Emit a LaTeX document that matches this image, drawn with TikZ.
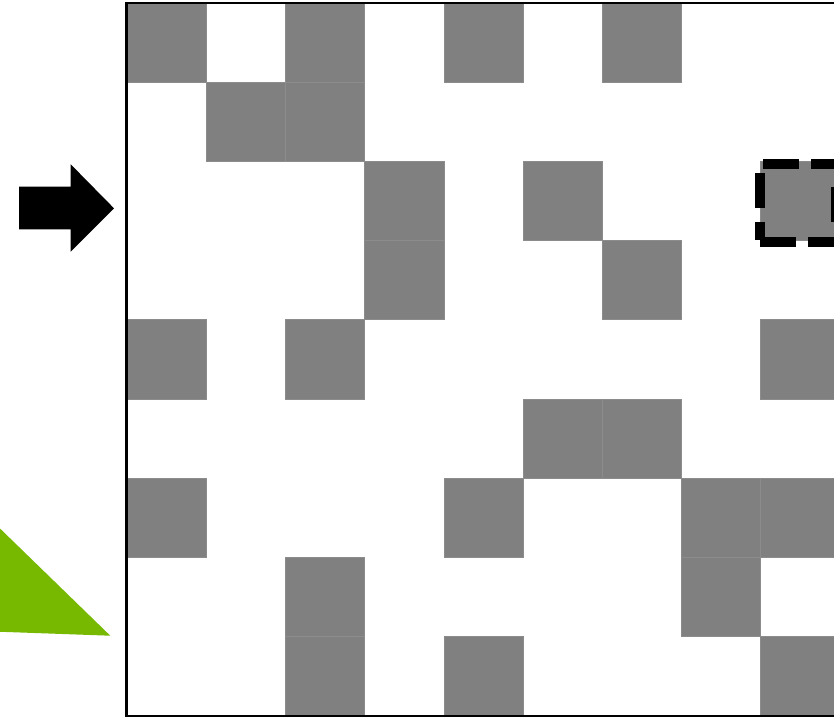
\documentclass[tikz,border=0pt]{standalone}
\definecolor{cellgray}{RGB}{128,128,128}
\definecolor{seamgray}{RGB}{140,140,140}
\definecolor{nvgreen}{RGB}{118,185,0}
\tikzset{
  cellbox/.style={fill=cellgray, draw=seamgray, line width=0.6pt},
  borderline/.style={draw=black, line width=2.6pt},
  dashseg/.style={draw=black, line width=10pt, line cap=butt},
  blockarrow/.style={fill=black, draw=none},
  greentri/.style={fill=nvgreen, draw=none}
}
\begin{document}
\begin{tikzpicture}[x=1pt,y=-1pt]
\useasboundingbox (0,0) rectangle (834,718);
\fill[white] (0,0) rectangle (834,718);
\clip (0,0) rectangle (834,718);
% gray cells: (column, row)
\foreach \c/\r in {0/0,2/0,4/0,6/0,
                   1/1,2/1,
                   3/2,5/2,8/2,
                   3/3,6/3,
                   0/4,2/4,8/4,
                   5/5,6/5,
                   0/6,4/6,7/6,8/6,
                   2/7,7/7,
                   2/8,4/8,8/8}{
  \path[cellbox] ({127+79.2*\c},{2.8+79.2*\r}) rectangle ++(79.2,79.2);
}
% grid frame
\draw[borderline] (840,2.8) -- (126.7,2.8) -- (126.7,715.9) -- (840,715.9);
% dashed highlight box
\draw[dashseg] (763,163.5) -- (799,163.5);
\draw[dashseg] (811,163.5) -- (840,163.5);
\draw[dashseg] (760,173) -- (760,208);
\draw[dashseg] (760,221.7) -- (760,240);
\draw[dashseg] (760,241.7) -- (795.7,241.7);
\draw[dashseg] (808,241.7) -- (840,241.7);
\draw[dashseg] (835.5,186.7) -- (835.5,221.7);
% black block arrow
\path[blockarrow] (19,186.7) -- (70.7,186.7) -- (70.7,164.3) -- (114,208.3)
  -- (70.7,251.7) -- (70.7,229.3) -- (19,229.3) -- cycle;
% green triangle
\path[greentri] (-10,518.8) -- (110.3,635.7) -- (-10,631.4) -- cycle;
\end{tikzpicture}
\end{document}
